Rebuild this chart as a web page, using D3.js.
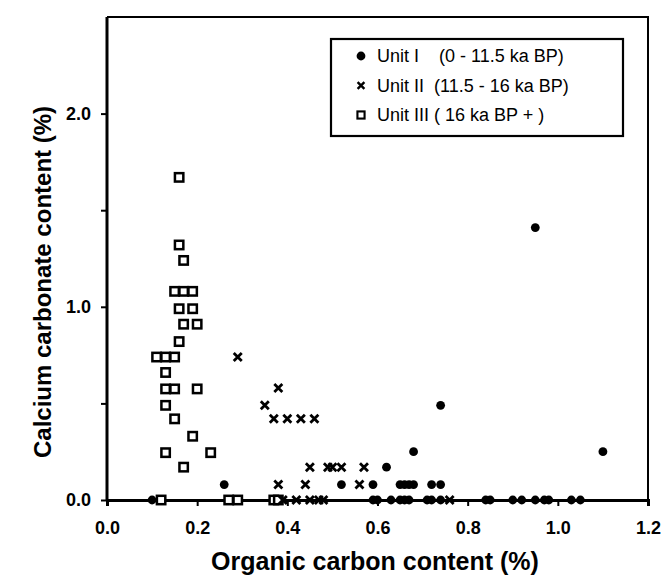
<!DOCTYPE html>
<html>
<head>
<meta charset="utf-8">
<script src="https://cdn.jsdelivr.net/npm/d3@7"></script>
<style>
  body { margin: 0; background: #fff; }
  svg { display: block; font-family: "Liberation Sans", Arial, sans-serif; }
</style>
</head>
<body>
<div id="chart"></div>
<script>
// Unit I (0 - 11.5 ka BP)
var unit1X = [0.10, 0.26, 0.52, 0.59, 0.62, 0.68, 0.74, 0.65, 0.66, 0.67, 0.68, 0.72, 0.74,
              0.59, 0.60, 0.63, 0.65, 0.66, 0.67, 0.71, 0.72, 0.74, 0.84, 0.85, 0.90, 0.92,
              0.95, 0.97, 0.98, 1.03, 1.05, 1.10, 0.95];
var unit1Y = [0.00, 0.08, 0.08, 0.08, 0.17, 0.25, 0.49, 0.08, 0.08, 0.08, 0.08, 0.08, 0.08,
              0.00, 0.00, 0.00, 0.00, 0.00, 0.00, 0.00, 0.00, 0.00, 0.00, 0.00, 0.00, 0.00,
              0.00, 0.00, 0.00, 0.00, 0.00, 0.25, 1.41];
// Unit II (11.5 - 16 ka BP)
var unit2X = [0.29, 0.38, 0.35, 0.37, 0.40, 0.43, 0.46, 0.45, 0.49, 0.50, 0.52, 0.57,
              0.38, 0.44, 0.56, 0.39, 0.42, 0.45, 0.47, 0.48, 0.76];
var unit2Y = [0.74, 0.58, 0.49, 0.42, 0.42, 0.42, 0.42, 0.17, 0.17, 0.17, 0.17, 0.17,
              0.08, 0.08, 0.08, 0.00, 0.00, 0.00, 0.00, 0.00, 0.00];
// Unit III (16 ka BP +)
var unit3X = [0.16, 0.16, 0.17, 0.15, 0.17, 0.19, 0.16, 0.19, 0.17, 0.20, 0.16, 0.11, 0.13,
              0.15, 0.13, 0.13, 0.15, 0.20, 0.13, 0.15, 0.19, 0.13, 0.23, 0.17, 0.12, 0.27,
              0.29, 0.37, 0.38];
var unit3Y = [1.67, 1.32, 1.24, 1.08, 1.08, 1.08, 0.99, 0.99, 0.91, 0.91, 0.82, 0.74, 0.74,
              0.74, 0.66, 0.575, 0.575, 0.575, 0.49, 0.42, 0.33, 0.245, 0.245, 0.17, 0.00, 0.00,
              0.00, 0.00, 0.00];

var xTicks = [0, 0.2, 0.4, 0.6, 0.8, 1.0, 1.2];
var yTicks = [0, 0.5, 1.0, 1.5, 2.0];
var legendLabels = ["Unit I    (0 - 11.5 ka BP)", "Unit II  (11.5 - 16 ka BP)", "Unit III ( 16 ka BP + )"];

var width = 666, height = 575,
    mLeft = 107, mRight = 648, mTop = 17, mBottom = 500;

var svg = d3.select("#chart").append("svg")
    .attr("width", width)
    .attr("height", height);

var x = d3.scaleLinear().domain([0, 1.2]).range([mLeft, mRight]);
var y = d3.scaleLinear().domain([0, 2.5]).range([mBottom, mTop]);

function pts(xs, ys) {
    return xs.map(function (v, i) { return {x: v, y: ys[i]}; });
}

// frame (top and right)
svg.append("path")
    .attr("d", "M" + mLeft + "," + mTop + "H" + mRight + "V" + mBottom)
    .attr("fill", "none")
    .attr("stroke", "#000")
    .attr("stroke-width", 2);

var xAxis = svg.append("g")
    .attr("transform", "translate(0," + mBottom + ")")
    .call(d3.axisBottom(x).tickValues(xTicks).tickFormat(d3.format(".1f"))
        .tickSizeOuter(0).tickSize(6).tickPadding(15));

var yAxis = svg.append("g")
    .attr("transform", "translate(" + mLeft + ",0)")
    .call(d3.axisLeft(y).tickValues(yTicks)
        .tickFormat(function (d) { return d % 1 === 0 ? d3.format(".1f")(d) : ""; })
        .tickSizeOuter(0).tickSize(6).tickPadding(10));

[xAxis, yAxis].forEach(function (g) {
    g.attr("font-size", 18)
        .attr("font-weight", "bold")
        .attr("font-family", "'Liberation Sans', Arial, sans-serif");
    g.select(".domain").attr("stroke-width", 3);
    g.selectAll(".tick line").attr("stroke-width", 2);
    g.selectAll(".tick text").attr("fill", "#000");
});
// the y axis line runs up to the top frame
yAxis.select(".domain").attr("d", "M0," + mBottom + "V" + mTop);

// axis titles
svg.append("text")
    .attr("x", 375)
    .attr("y", 570)
    .attr("text-anchor", "middle")
    .attr("font-size", 25)
    .attr("font-weight", "bold")
    .text("Organic carbon content (%)");

svg.append("text")
    .attr("transform", "translate(51,282) rotate(-90)")
    .attr("text-anchor", "middle")
    .attr("font-size", 24)
    .attr("font-weight", "bold")
    .text("Calcium carbonate content (%)");

// markers
function drawCircle(sel) {
    sel.append("circle").attr("r", 4.4).attr("fill", "#000");
}
function drawCross(sel) {
    sel.append("path").attr("d", "M-4,-4L4,4M-4,4L4,-4")
        .attr("stroke", "#000").attr("stroke-width", 2.8).attr("fill", "none");
}
function drawSquare(sel) {
    sel.append("rect").attr("x", -4.2).attr("y", -4.2).attr("width", 8.4).attr("height", 8.4)
        .attr("fill", "#fff").attr("stroke", "#000").attr("stroke-width", 2.5);
}

function plot(data, cls, draw) {
    svg.selectAll("g." + cls)
        .data(data)
        .enter()
        .append("g")
        .attr("class", cls)
        .attr("transform", function (d) { return "translate(" + x(d.x) + "," + y(d.y) + ")"; })
        .call(draw);
}

plot(pts(unit3X, unit3Y), "u3", drawSquare);
plot(pts(unit2X, unit2Y), "u2", drawCross);
plot(pts(unit1X, unit1Y), "u1", drawCircle);

// legend
var legend = svg.append("g");
legend.append("rect")
    .attr("x", 331).attr("y", 39).attr("width", 292).attr("height", 97)
    .attr("fill", "#fff").attr("stroke", "#000").attr("stroke-width", 2.2);

var drawers = [drawCircle, drawCross, drawSquare];
legendLabels.forEach(function (label, i) {
    var row = legend.append("g").attr("transform", "translate(361," + (56 + i * 29.5) + ")");
    row.append("g").attr("transform", i === 0 ? "" : "scale(0.85)").call(drawers[i]);
    row.append("text")
        .attr("x", 16)
        .attr("dy", "0.36em")
        .attr("font-size", 18)
        .attr("xml:space", "preserve")
        .style("white-space", "pre")
        .text(label);
});
</script>
</body>
</html>
